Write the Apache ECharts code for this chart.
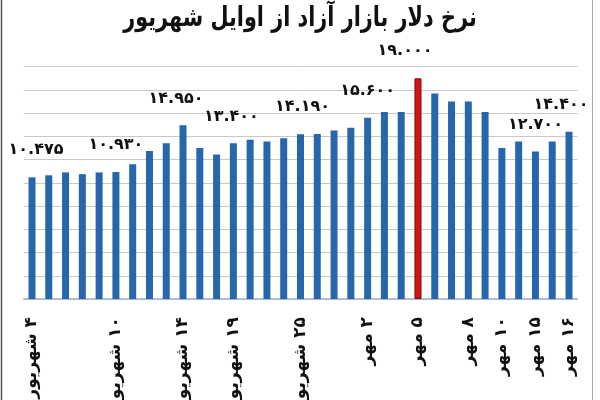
<!DOCTYPE html>
<html>
<head>
<meta charset="utf-8">
<script src="https://cdn.jsdelivr.net/npm/echarts@6/dist/echarts.min.js"></script>
<style>
  html, body { margin: 0; padding: 0; background: #fff; }
  #chart { width: 600px; height: 400px; }
</style>
</head>
<body>
<div id="chart"></div>
<script>
// data (toman)
var titleText = 'نرخ دلار بازار آزاد از اوایل شهریور';
var dates = [
  '۴ شهریور', '', '', '', '', '۱۰ شهریور', '', '', '', '۱۴ شهریور', '',
  '', '۱۹ شهریور', '', '', '', '۲۵ شهریور', '', '', '', '۲ مهر', '',
  '', '۵ مهر', '', '', '۸ مهر', '', '۱۰ مهر', '', '۱۵ مهر', '', '۱۶ مهر'
];
var rates = [
  10475, 10650, 10900, 10750, 10900, 10930, 11600, 12750, 13400, 14950, 13000,
  12450, 13400, 13700, 13550, 13850, 14190, 14200, 14500, 14750, 15600, 16100,
  16100, 19000, 17700, 17000, 17000, 16100, 13000, 13550, 12700, 13550, 14400
];
var labeledIdx = [0, 5, 9, 12, 16, 20, 23, 30, 32];
var peakIdx = 23;

// small horizontal nudges of the value labels
var labelShift = { 0: 4, 9: -7, 12: -2, 16: 2, 23: -13, 32: -8 };

var faDigits = '۰۱۲۳۴۵۶۷۸۹';
var toFa = function (s) {
  return String(s).replace(/[0-9]/g, function (d) { return faDigits[+d]; });
};
var fmt = function (v) {
  var s = String(v);
  return toFa(s.slice(0, s.length - 3) + '.' + s.slice(-3));
};

var seriesData = rates.map(function (v, i) {
  var item = { value: v };
  if (i === peakIdx) {
    item.itemStyle = { color: '#d11414', borderColor: '#7a0a0a', borderWidth: 1 };
  }
  if (labeledIdx.indexOf(i) >= 0) {
    item.label = {
      show: true,
      position: 'top',
      distance: 19,
      offset: [labelShift[i] || 0, 0],
      formatter: function (p) { return fmt(p.value); },
      color: '#111',
      fontSize: 16,
      fontWeight: 'bold',
      fontFamily: 'DejaVu Sans'
    };
  }
  return item;
});

var chart = echarts.init(document.getElementById('chart'));
chart.setOption({
  animation: false,
  backgroundColor: '#fff',
  grid: {
    left: 23.6, right: 22.6, top: 66.7, bottom: 101,
    containLabel: false,
    outerBoundsMode: 'none'
  },
  xAxis: {
    type: 'category',
    data: dates,
    axisTick: { show: false },
    axisLine: { lineStyle: { color: '#9fb3c8', width: 1.5 } },
    axisLabel: {
      interval: 0,
      rotate: 90,
      margin: 18,
      color: '#111',
      fontSize: 17,
      fontWeight: 'bold',
      fontFamily: 'DejaVu Sans',
      // RLM so the day number sits at the axis end of the rotated text
      formatter: function (v) { return v ? '\u200F' + v : ''; }
    }
  },
  yAxis: {
    type: 'value',
    min: 0,
    max: 20000,
    interval: 2000,
    axisLabel: { show: false },
    axisLine: { show: false },
    axisTick: { show: false },
    splitLine: { lineStyle: { color: '#c8c8c8', width: 1 } }
  },
  series: [{
    type: 'bar',
    data: seriesData,
    barWidth: 7,
    itemStyle: { color: '#2766ad' }
  }],
  graphic: [
    // title, squeezed horizontally like the newspaper's condensed face
    {
      type: 'text',
      x: 300,
      y: 19,
      scaleX: 0.77,
      style: {
        text: titleText,
        align: 'center',
        verticalAlign: 'middle',
        fill: '#111',
        font: 'bold 27px "DejaVu Sans"'
      }
    },
    { type: 'line', shape: { x1: 1.5, y1: 0, x2: 1.5, y2: 400 }, style: { stroke: '#555', lineWidth: 1.5 } },
    { type: 'line', shape: { x1: 592.5, y1: 0, x2: 592.5, y2: 400 }, style: { stroke: '#aaa', lineWidth: 1 } }
  ]
});
</script>
</body>
</html>
